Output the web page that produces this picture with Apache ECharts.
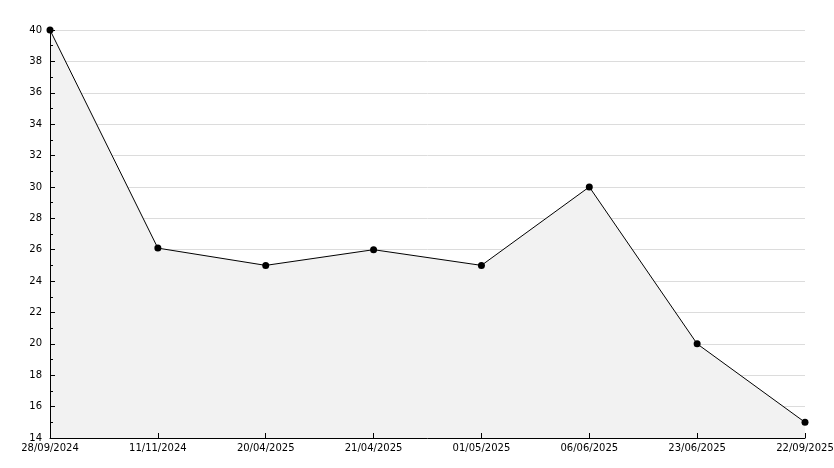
<!DOCTYPE html>
<html>
<head>
<meta charset="utf-8">
<script src="https://cdn.jsdelivr.net/npm/echarts@6/dist/echarts.min.js"></script>
<style>
  html, body { margin: 0; padding: 0; background: #fff; }
  #chart { width: 834px; height: 468px; }
</style>
</head>
<body>
<div id="chart"></div>
<script>
// dates along the bottom axis
const dates = ['28/09/2024', '11/11/2024', '20/04/2025', '21/04/2025',
    '01/05/2025', '06/06/2025', '23/06/2025', '22/09/2025'];
// values
const values = [40, 26.1, 25, 26, 25, 30, 20, 15];
// y axis range
const yMin = 14;
const yMax = 40;
const yStep = 2;

let chart = echarts.init(document.getElementById('chart'));
let labelStyle = {
    color: '#000',
    fontFamily: 'DejaVu Sans',
    fontSize: 10
};
let option = {
    animation: false,
    grid: {
        left: 50,
        right: 29,
        top: 30,
        bottom: 30,
        containLabel: false,
        outerBoundsMode: 'none'
    },
    xAxis: {
        type: 'category',
        data: dates,
        boundaryGap: false,
        z: 5,
        axisLine: {
            lineStyle: { color: '#000', width: 1 }
        },
        axisTick: {
            inside: true,
            length: 5,
            alignWithLabel: true,
            lineStyle: { color: '#000' }
        },
        axisLabel: Object.assign({ interval: 0, margin: 5, hideOverlap: false }, labelStyle),
        splitLine: { show: false }
    },
    yAxis: [{
        // grid lines only, under the area
        type: 'value',
        min: yMin,
        max: yMax,
        interval: yStep,
        z: 0,
        axisLine: { show: false },
        axisTick: { show: false },
        axisLabel: { show: false },
        splitLine: {
            show: true,
            lineStyle: { color: '#dcdcdc', width: 1 }
        }
    }, {
        // axis line, ticks and labels, above the area
        type: 'value',
        position: 'left',
        min: yMin,
        max: yMax,
        interval: yStep,
        z: 5,
        axisLine: {
            show: true,
            lineStyle: { color: '#000', width: 1 }
        },
        axisTick: {
            show: true,
            inside: true,
            length: 5,
            lineStyle: { color: '#000' }
        },
        minorTick: {
            show: true,
            splitNumber: 2,
            length: 3,
            lineStyle: { color: '#000' }
        },
        axisLabel: Object.assign({ margin: 8 }, labelStyle),
        splitLine: { show: false }
    }],
    series: [{
        type: 'line',
        data: values,
        yAxisIndex: 0,
        symbol: 'circle',
        symbolSize: 7,
        itemStyle: { color: '#000' },
        lineStyle: { color: '#000', width: 1 },
        areaStyle: { color: '#f2f2f2', opacity: 1, origin: 'start' },
        z: 2
    }]
};
chart.setOption(option, true);
</script>
</body>
</html>
